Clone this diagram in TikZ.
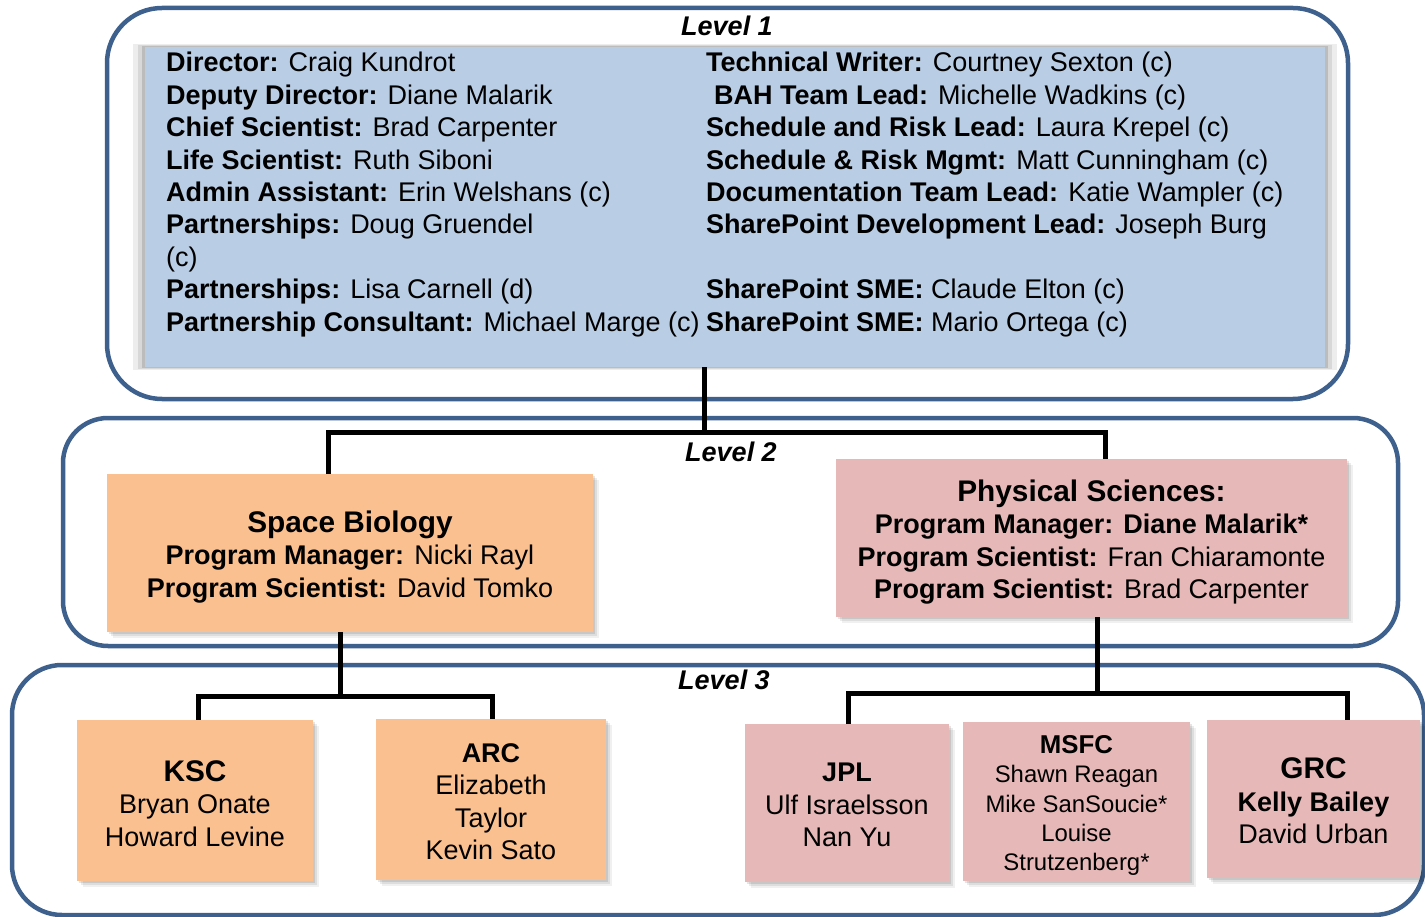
\documentclass[tikz,border=0pt]{standalone}
\usepackage{fontspec}
\setmainfont{Liberation Sans}
\usetikzlibrary{shadows}
\definecolor{frameblue}{RGB}{62,96,141}
\definecolor{lonefill}{RGB}{185,205,229}
\definecolor{orangefill}{RGB}{250,192,144}
\definecolor{pinkfill}{RGB}{230,185,184}
\newcommand\bodyfs{\fontsize{27}{32.5}\selectfont}
\newcommand\titlefs{\fontsize{29.8}{32.5}\selectfont\bfseries}
\newcommand\smallfs{\fontsize{23.9}{29.2}\selectfont}
\newcommand\msfctitle{\fontsize{25.8}{29.2}\selectfont\bfseries}
\newcommand\B[1]{\textbf{#1}}
\begin{document}
\begin{tikzpicture}[x=1pt,y=-1pt,
  levelframe/.style={draw=frameblue, line width=4.5pt, rounded corners=#1, inner sep=0pt},
  softshadow/.style={
    general shadow={fill=black, opacity=.10, shadow xshift=2pt, shadow yshift=-2pt},
    general shadow={fill=black, opacity=.08, shadow xshift=4pt, shadow yshift=-4pt},
    general shadow={fill=black, opacity=.06, shadow xshift=6pt, shadow yshift=-6pt}},
  glowshadow/.style={
    general shadow={fill=black, opacity=.07, shadow scale=1.02},
    general shadow={fill=black, opacity=.09, shadow scale=1.012},
    general shadow={fill=black, opacity=.13, shadow scale=1.005}},
  orgbox/.style={fill=#1, inner sep=0pt, softshadow},
  boxtext/.style={align=center, inner sep=0pt, font=\bodyfs},
  conn/.style={line width=5pt, black},
  line1/.style={anchor=base west, inner sep=0pt, font=\bodyfs},
  lvlabel/.style={inner sep=0pt, font=\bodyfs\bfseries\itshape}
]
\useasboundingbox (0,0) rectangle (1425,917);

% level frames
\node[levelframe=55pt, minimum width=1241pt, minimum height=391pt] (lev1) at (727.5,203.5) {};
\node[levelframe=45pt, minimum width=1335pt, minimum height=228pt] (lev2) at (730.5,532) {};
\node[levelframe=50pt, minimum width=1412pt, minimum height=250pt] (lev3) at (718,790) {};

% level 1 content box
\node[fill=lonefill, inner sep=0pt, glowshadow, minimum width=1180pt, minimum height=320pt] (l1in) at (735,207) {};

\node[lvlabel] (lv1) at (727,26) {Level 1};
\node[lvlabel] (lv2) at (731,452) {Level 2};
\node[lvlabel] (lv3) at (724,680) {Level 3};

% left column
\node[line1] (a1) at (166,72) {\B{Director:} Craig Kundrot};
\node[line1] (a2) at (166,104.4) {\B{Deputy Director:} Diane Malarik};
\node[line1] (a3) at (166,136.8) {\B{Chief Scientist:} Brad Carpenter};
\node[line1] (a4) at (166,169.2) {\B{Life Scientist:} Ruth Siboni};
\node[line1] (a5) at (166,201.6) {\B{Admin Assistant:} Erin Welshans (c)};
\node[line1] (a6) at (166,234) {\B{Partnerships:} Doug Gruendel};
\node[line1] (a7) at (166,266.4) {(c)};
\node[line1] (a8) at (166,298.8) {\B{Partnerships:} Lisa Carnell (d)};
\node[line1] (a9) at (166,331.2) {\B{Partnership Consultant:} Michael Marge (c)};
% right column
\node[line1] (b1) at (706,72) {\B{Technical Writer:} Courtney Sexton (c)};
\node[line1] (b2) at (714,104.4) {\B{BAH Team Lead:} Michelle Wadkins (c)};
\node[line1] (b3) at (706,136.8) {\B{Schedule and Risk Lead:} Laura Krepel (c)};
\node[line1] (b4) at (706,169.2) {\B{Schedule \& Risk Mgmt:} Matt Cunningham (c)};
\node[line1] (b5) at (706,201.6) {\B{Documentation Team Lead:} Katie Wampler (c)};
\node[line1] (b6) at (706,234) {\B{SharePoint Development Lead:} Joseph Burg};
\node[line1] (b8) at (706,298.8) {\B{SharePoint SME:} Claude Elton (c)};
\node[line1] (b9) at (706,331.2) {\B{SharePoint SME:} Mario Ortega (c)};

% level 2 boxes
\node[orgbox=orangefill, minimum width=486pt, minimum height=158pt] (sb) at (350,553) {};
\node[boxtext] (sbt) at ([yshift=-4pt]sb.center)
  {{\titlefs Space Biology}\\ \B{Program Manager:} Nicki Rayl\\ \B{Program Scientist:} David Tomko};
\node[orgbox=pinkfill, minimum width=511pt, minimum height=158pt] (ps) at (1091.5,538) {};
\node[boxtext] (pst) at ([yshift=-4pt]ps.center)
  {{\titlefs Physical Sciences:}\\ \B{Program Manager: Diane Malarik*}\\ \B{Program Scientist:} Fran Chiaramonte\\ \B{Program Scientist:} Brad Carpenter};

% level 3 boxes
\node[orgbox=orangefill, minimum width=236pt, minimum height=161pt] (ksc) at (195,800.5) {};
\node[boxtext] (kst) at ([yshift=-3pt]ksc.center) {{\titlefs KSC}\\ Bryan Onate\\ Howard Levine};
\node[orgbox=orangefill, minimum width=230pt, minimum height=161pt] (arc) at (491,799.5) {};
\node[boxtext] (art) at ([yshift=-2pt]arc.center) {\B{ARC}\\ Elizabeth\\ Taylor\\ Kevin Sato};
\node[orgbox=pinkfill, minimum width=204pt, minimum height=158pt] (jpl) at (847,803) {};
\node[boxtext] (jpt) at ([yshift=-2pt]jpl.center) {\B{JPL}\\ Ulf Israelsson\\ Nan Yu};
\node[orgbox=pinkfill, minimum width=227pt, minimum height=159pt] (msfc) at (1076.5,801.5) {};
\node[boxtext, font=\smallfs] (mst) at ([yshift=-4pt]msfc.center)
  {{\msfctitle MSFC}\\ Shawn Reagan\\ Mike SanSoucie*\\ Louise\\ Strutzenberg*};
\node[orgbox=pinkfill, minimum width=213pt, minimum height=158pt] (grc) at (1313.5,799) {};
\node[boxtext] (grt) at ([yshift=-2pt]grc.center) {{\titlefs GRC}\\ \B{Kelly Bailey}\\ David Urban};

% connectors level 1 -> level 2
\coordinate (j1) at (704,432);
\coordinate (c1) at (328,432);
\coordinate (c2) at (1105,432);
\draw[conn] (l1in.south -| j1) -- (j1);
\draw[conn] (c1 |- sb.north) -- (c1) -- (c2) -- (c2 |- ps.north);

% connectors level 2 -> level 3
\coordinate (j2) at (340,696);
\coordinate (k1) at (198,696);
\coordinate (k2) at (492,696);
\draw[conn] (sb.south -| j2) -- (j2);
\draw[conn] (k1 |- ksc.north) -- (k1) -- (k2) -- (k2 |- arc.north);

\coordinate (j3) at (1097,693);
\coordinate (p1) at (848,693);
\coordinate (p2) at (1347,693);
\draw[conn] (ps.south -| j3) -- (j3);
\draw[conn] (p1 |- jpl.north) -- (p1) -- (p2) -- (p2 |- grc.north);
\end{tikzpicture}
\end{document}
